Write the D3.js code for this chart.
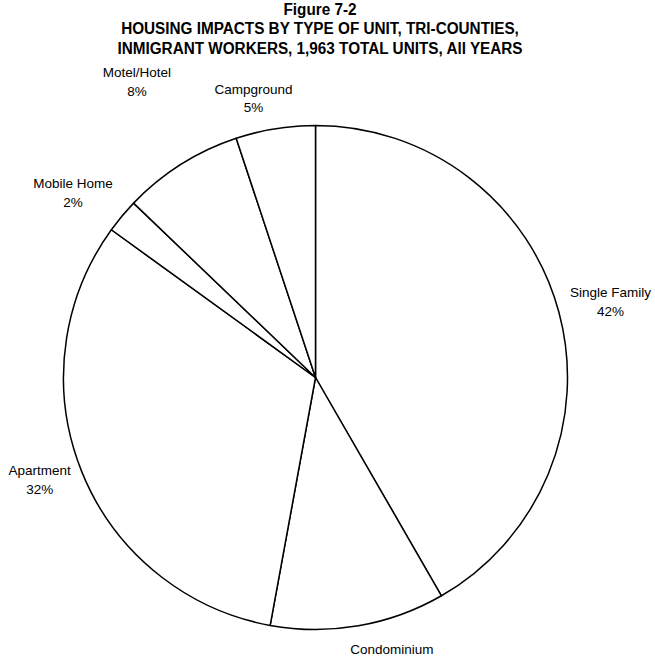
<!DOCTYPE html>
<html>
<head>
<meta charset="utf-8">
<script src="https://cdn.jsdelivr.net/npm/d3@7/dist/d3.min.js"></script>
<style>
  html, body { margin: 0; padding: 0; background: #fff; }
  svg { display: block; font-family: "Liberation Sans", Arial, sans-serif; }
</style>
</head>
<body>
<svg id="chart" width="655" height="658"></svg>
<script>
const titleLines = ["Figure 7-2", "HOUSING IMPACTS BY TYPE OF UNIT, TRI-COUNTIES,", "INMIGRANT WORKERS, 1,963 TOTAL UNITS, All YEARS"];
const categories = ["Single Family", "Condominium", "Apartment", "Mobile Home", "Motel/Hotel", "Campground"];
const units = [818, 220, 630, 43, 152, 100];

const svg = d3.select("#chart");
const cx = 315.5, cy = 377.5, r = 252;

// Title (slightly condensed bold face)
const titleY = [15, 34, 54];
const tg = svg.append("g").attr("transform", "translate(320,0) scale(0.9,1)");
titleLines.forEach((t, i) => {
  tg.append("text")
    .attr("x", 0).attr("y", titleY[i])
    .attr("text-anchor", "middle")
    .attr("font-weight", "bold")
    .attr("font-size", 17)
    .text(t);
});

const data = categories.map((c, i) => ({ name: c, value: units[i] }));
const total = d3.sum(units);
const pie = d3.pie().value(d => d.value).sort(null).startAngle(0).endAngle(2 * Math.PI);
const arcs = pie(data);
const arc = d3.arc().innerRadius(0).outerRadius(r);

const g = svg.append("g").attr("transform", `translate(${cx},${cy})`);
g.selectAll("path").data(arcs).join("path")
  .attr("d", arc)
  .attr("fill", "#fff")
  .attr("stroke", "#000")
  .attr("stroke-width", 1.5)
  .attr("stroke-linejoin", "round");

// Labels: block centred on a circle outside the pie, with small layout nudges
const labelRadius = 295;
const nudge = {
  "Single Family": [10, 1],
  "Condominium": [26, -9],
  "Apartment": [-2, -8],
  "Mobile Home": [-16, 4],
  "Motel/Hotel": [-21, -46],
  "Campground": [-15, 12]
};
const fmt = d3.format(".0%");
const lg = g.append("g").attr("font-size", 13.5).attr("fill", "#000");
arcs.forEach(a => {
  const th = (a.startAngle + a.endAngle) / 2;
  const [nx, ny] = nudge[a.data.name] || [0, 0];
  const x = labelRadius * Math.sin(th) + nx;
  const y = -labelRadius * Math.cos(th) + ny;
  const t = lg.append("text").attr("text-anchor", "middle")
    .attr("transform", `translate(${x},${y})`);
  t.append("tspan").attr("x", 0).attr("y", -9.5).attr("dy", "0.35em").text(a.data.name);
  t.append("tspan").attr("x", 0).attr("y", 9.5).attr("dy", "0.35em").text(fmt(a.data.value / total));
});
</script>
</body>
</html>
